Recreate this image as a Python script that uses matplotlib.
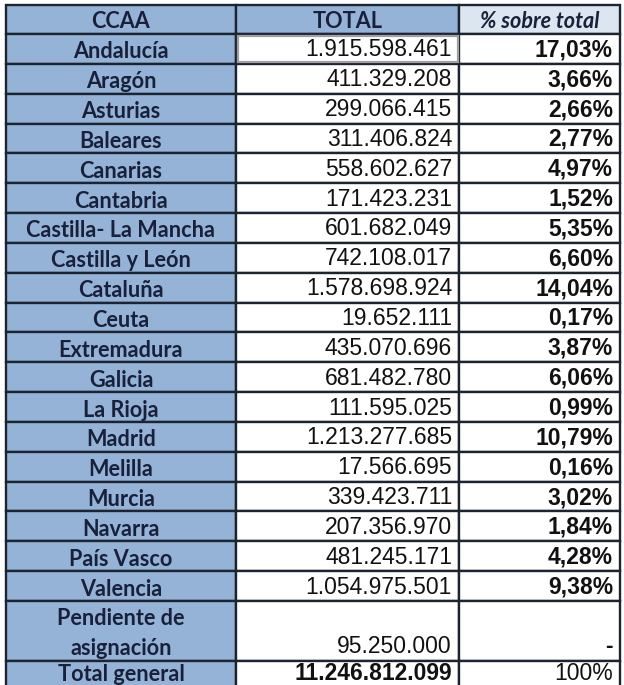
import matplotlib.pyplot as plt
from matplotlib.patches import Rectangle

ccaa = ["Andalucía", "Aragón", "Asturias", "Baleares", "Canarias", "Cantabria",
        "Castilla- La Mancha", "Castilla y León", "Cataluña", "Ceuta",
        "Extremadura", "Galicia", "La Rioja", "Madrid", "Melilla", "Murcia",
        "Navarra", "País Vasco", "Valencia"]
totales = [1915598461, 411329208, 299066415, 311406824, 558602627, 171423231,
           601682049, 742108017, 1578698924, 19652111, 435070696, 681482780,
           111595025, 1213277685, 17566695, 339423711, 207356970, 481245171,
           1054975501]
porcentajes = [17.03, 3.66, 2.66, 2.77, 4.97, 1.52, 5.35, 6.60, 14.04, 0.17,
               3.87, 6.06, 0.99, 10.79, 0.16, 3.02, 1.84, 4.28, 9.38]
pendiente = 95250000
total_general = 11246812099
cabeceras = ["CCAA", "TOTAL", "% sobre total"]


def miles(v):
    return f"{v:,}".replace(",", ".")


def pct(p):
    return f"{p:.2f}".replace(".", ",") + "%"


# layout (pixels)
W, H = 624, 685
cols = [6, 236, 459, 620]
top, head_h, row_h = 5, 29, 29.84
blue = "#95b3d7"
light = "#dce6f1"
line = "#1c2331"
navy = "#18203a"
lw = 1.7

fig = plt.figure(figsize=(W / 100, H / 100), dpi=100)
ax = fig.add_axes([0, 0, 1, 1])
ax.set_xlim(0, W)
ax.set_ylim(H, 0)
ax.axis("off")

calibri = "Lato"
arial = "Liberation Sans"
fs = 16.5
fs_c = 15.6


def cell(c, y, h, color):
    ax.add_patch(Rectangle((cols[c], y), cols[c + 1] - cols[c], h,
                           facecolor=color, edgecolor=line, lw=lw, zorder=1))


def etiqueta(txt, yc):
    ax.text((cols[0] + cols[1]) / 2, yc + 2, txt, ha="center", va="center",
            fontsize=fs_c, fontfamily=calibri, fontweight="bold", color=navy)


# header
for c, (txt, col) in enumerate(zip(cabeceras, [blue, blue, light])):
    cell(c, top, head_h, col)
    ax.text((cols[c] + cols[c + 1]) / 2, top + head_h / 2 + 2, txt,
            ha="center", va="center", fontsize=fs_c, fontfamily=calibri,
            fontweight="bold", fontstyle="italic" if c == 2 else "normal",
            color=navy)

y0 = top + head_h
for i, (name, tot, p) in enumerate(zip(ccaa, totales, porcentajes)):
    y = y0 + i * row_h
    cell(0, y, row_h, blue)
    cell(1, y, row_h, "white")
    cell(2, y, row_h, "white")
    yc = y + row_h / 2 + 1
    etiqueta(name, yc)
    ax.text(cols[2] - 7, yc, miles(tot), ha="right", va="center",
            fontsize=fs, fontfamily=arial, color="#111111")
    ax.text(cols[3] - 7, yc, pct(p), ha="right", va="center",
            fontsize=fs, fontfamily=arial, fontweight="bold", color="#111111")

# selected cell outline (Andalucía total)
ax.add_patch(Rectangle((cols[1] + 1.5, y0 + 1.5), cols[2] - cols[1] - 3, row_h - 3,
                       facecolor="none", edgecolor="#a0a0a0", lw=1.6, zorder=2))

# pendiente de asignación (double row)
y = y0 + len(ccaa) * row_h
cell(0, y, 2 * row_h, blue)
cell(1, y, 2 * row_h, "white")
cell(2, y, 2 * row_h, "white")
etiqueta("Pendiente de", y + row_h / 2 + 1)
etiqueta("asignación", y + 1.5 * row_h + 1)
ax.text(cols[2] - 7, y + 1.5 * row_h + 1, miles(pendiente), ha="right",
        va="center", fontsize=fs, fontfamily=arial, color="#111111")
ax.text(cols[3] - 7, y + 1.5 * row_h + 1, "-", ha="right", va="center",
        fontsize=fs, fontfamily=arial, fontweight="bold", color="#111111")

# total general (row runs past the bottom edge, as in the original crop)
y = y + 2 * row_h
cell(0, y, row_h, blue)
cell(1, y, row_h, "white")
cell(2, y, row_h, "white")
yc = y + row_h / 2 - 2
etiqueta("Total general", yc - 1)
ax.text(cols[2] - 7, yc, miles(total_general), ha="right", va="center",
        fontsize=fs, fontfamily=arial, fontweight="bold", color="#111111")
ax.text(cols[3] - 7, yc, "100%", ha="right", va="center",
        fontsize=fs, fontfamily=arial, color="#111111")

fig.savefig("out.png", dpi=100, facecolor="white")
